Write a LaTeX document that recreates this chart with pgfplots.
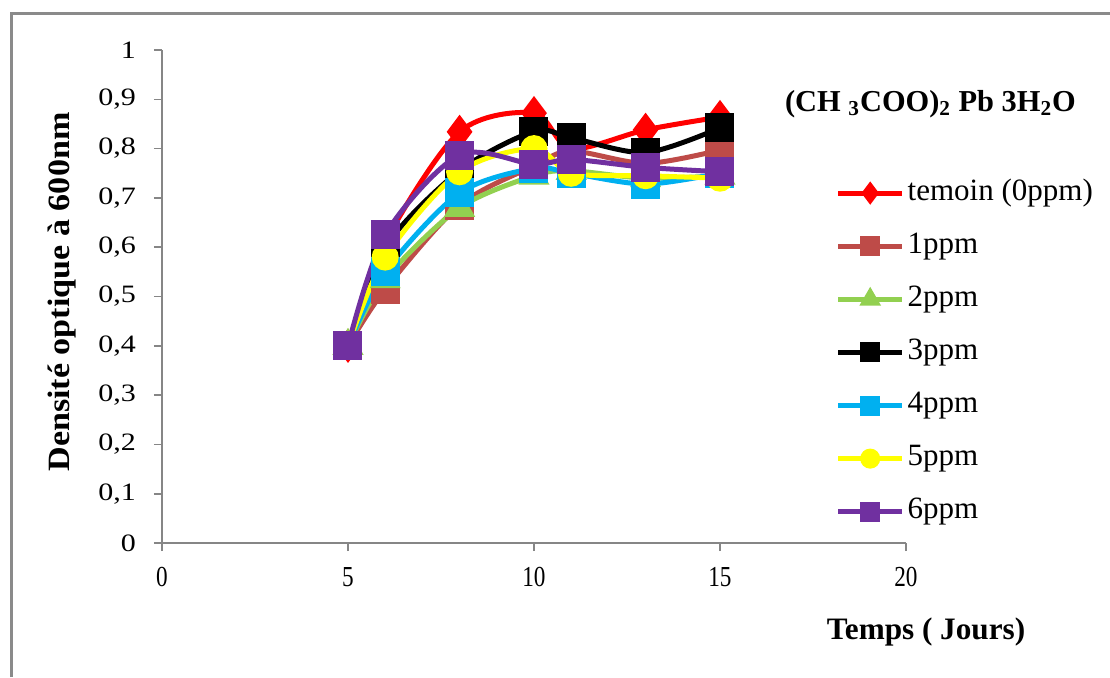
\documentclass[border=0pt]{standalone}
\usepackage{fontspec}
\setmainfont{Liberation Serif}
\usepackage{pgfplots}
\pgfplotsset{compat=1.18}

\definecolor{cRed}{HTML}{FF0000}
\definecolor{cBrown}{HTML}{BE4B48}
\definecolor{cGreen}{HTML}{92D050}
\definecolor{cBlack}{HTML}{000000}
\definecolor{cBlue}{HTML}{00B0F0}
\definecolor{cYellow}{HTML}{FFFF00}
\definecolor{cPurple}{HTML}{7030A0}
\definecolor{axisgray}{HTML}{868686}
\definecolor{framegray}{HTML}{8A8A8A}

\begin{document}
\begin{tikzpicture}
\useasboundingbox (0,0) rectangle (555pt,338.5pt);
\fill[white] (0,0) rectangle (555pt,338.5pt);
\draw[framegray, line width=1.5pt] (5.5pt,0pt) -- (5.5pt,332pt) -- (555pt,332pt);
\begin{axis}[
  at={(81pt,67pt)}, anchor=south west,
  scale only axis, width=372pt, height=246.5pt,
  xmin=0, xmax=20, ymin=0, ymax=1,
  clip=false,
  xtick={0,5,10,15,20},
  ytick={0,0.1,0.2,0.3,0.4,0.5,0.6,0.7,0.8,0.9,1},
  axis x line*=bottom, axis y line*=left,
  axis line style={axisgray, line width=0.8pt},
  tick align=outside, major tick length=4pt,
  tick style={axisgray, line width=0.8pt},
  /pgf/number format/assume math mode=true,
  /pgf/number format/use comma,
  yticklabel={\scalebox{1.2}[1]{\pgfmathprintnumber[fixed,precision=1]{\tick}}},
  xticklabel={\scalebox{0.8}[1]{\pgfmathprintnumber{\tick}}},
  yticklabel style={font=\fontsize{12.5}{14}\selectfont, black, xshift=-5.5pt},
  xticklabel style={font=\fontsize{14.5}{16}\selectfont, black, yshift=-4.5pt},
  xlabel={\textbf{Temps ( Jours)}},
  ylabel={\scalebox{1.1}[1]{\textbf{Densité optique à 600nm}}},
  xlabel style={at={(axis description cs:1.027,-0.181)}, anchor=center, font=\fontsize{15.6}{17}\selectfont},
  ylabel style={at={(axis description cs:-0.134,0.509)}, anchor=center, font=\fontsize{15.5}{17}\selectfont},
  title={\textbf{(CH \textsubscript{3}COO)\textsubscript{2} Pb 3H\textsubscript{2}O}},
  title style={at={(axis description cs:0.828,0.866)}, anchor=west, font=\fontsize{15.2}{17}\selectfont},
  legend style={draw=none, fill=none, at={(axis description cs:0.905,0.743)}, anchor=north west,
    font=\fontsize{15.5}{17}\selectfont, row sep=10.55pt, inner sep=0pt,
    nodes={inner sep=1.5pt, text height=10pt, text depth=3pt}},
  legend cell align=left,
  legend image code/.code={\draw[mark repeat=2, mark phase=2, #1, mark size=3.75pt] plot coordinates {(0pt,0pt) (16pt,0pt) (32pt,0pt)};},
  every axis plot/.append style={line width=2.5pt, smooth, tension=0.5},
]
% temoin (0 ppm)
\addplot[cRed, mark=diamond*, mark size=6.5pt, mark options={draw=none}] coordinates {
  (5,0.400) (6,0.610) (8,0.834) (10,0.872) (11,0.800) (13,0.838) (15,0.864)};
\addlegendentry{temoin (0ppm)}
% 1 ppm
\addplot[cBrown, mark=square*, mark size=6pt, mark options={draw=none}] coordinates {
  (5,0.400) (6,0.515) (8,0.685) (10,0.765) (11,0.795) (13,0.770) (15,0.797)};
\addlegendentry{1ppm}
% 2 ppm
\addplot[cGreen, mark=triangle*, mark size=6.5pt, mark options={draw=none}] coordinates {
  (5,0.400) (6,0.535) (8,0.680) (10,0.745) (11,0.755) (13,0.740) (15,0.745)};
\addlegendentry{2ppm}
% 3 ppm
\addplot[cBlack, mark=square*, mark size=6pt, mark options={draw=none}] coordinates {
  (5,0.400) (6,0.600) (8,0.755) (10,0.835) (11,0.822) (13,0.792) (15,0.842)};
\addlegendentry{3ppm}
% 4 ppm
\addplot[cBlue, mark=square*, mark size=6pt, mark options={draw=none}] coordinates {
  (5,0.400) (6,0.550) (8,0.710) (10,0.760) (11,0.750) (13,0.728) (15,0.750)};
\addlegendentry{4ppm}
% 5 ppm
\addplot[cYellow, mark=*, mark size=5.5pt, mark options={draw=none}] coordinates {
  (5,0.400) (6,0.580) (8,0.753) (10,0.800) (11,0.750) (13,0.745) (15,0.740)};
\addlegendentry{5ppm}
% 6 ppm
\addplot[cPurple, mark=square*, mark size=6pt, mark options={draw=none}] coordinates {
  (5,0.400) (6,0.625) (8,0.787) (10,0.768) (11,0.778) (13,0.762) (15,0.753)};
\addlegendentry{6ppm}
\end{axis}
\end{tikzpicture}
\end{document}
